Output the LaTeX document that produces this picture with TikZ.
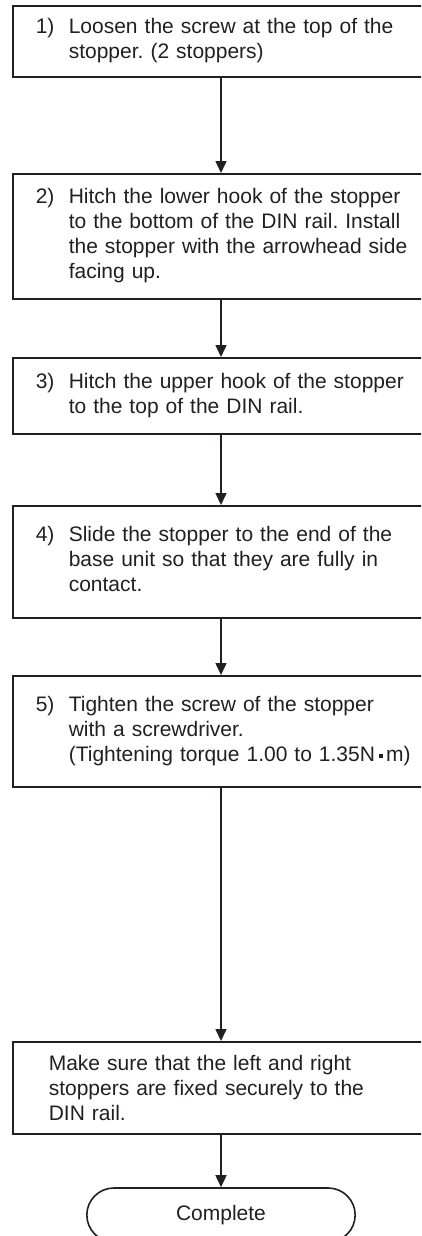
\documentclass[tikz,border=0pt]{standalone}
\usepackage{xcolor}
\usepackage{fontspec}
\setmainfont{Liberation Sans}
\usepackage{tikz}
\usetikzlibrary{arrows.meta, positioning, calc, shapes.misc}
\definecolor{ink}{RGB}{35,31,32}
\frenchspacing
\tikzset{
  stepbox/.style={draw=ink, rectangle, anchor=north west, line width=1.6pt, minimum width=428pt,
    inner xsep=23pt, inner ysep=0pt, text width=382pt, align=left},
  checkbox/.style={stepbox, inner xsep=36pt, text width=356pt},
  terminal/.style={draw=ink, rounded rectangle, line width=1.6pt, minimum width=275pt, minimum height=54pt},
  flow/.style={-{Triangle[width=11pt, length=12pt]}, draw=ink, line width=1.5pt}
}
\newcommand{\steptext}[2]{%
  \begin{tabular}{@{}p{33pt}@{}l@{}}#1 & #2\end{tabular}%
}

\begin{document}
\begin{tikzpicture}[x=1pt, y=-1pt, font=\fontsize{21}{25}\selectfont, text=ink]
        \clip (0,0) rectangle (421,1236);

        % Steps
        \node[stepbox, minimum height=71pt]  (loosen)  at (12,5)   {\steptext{1)}{Loosen the screw at the top of the\\ & stopper. (2 stoppers)}};
        \node[stepbox, minimum height=125pt] (lower)   at (12,173) {\steptext{2)}{Hitch the lower hook of the stopper\\ & to the bottom of the DIN rail. Install\\ & the stopper with the arrowhead side\\ & facing up.}};
        \node[stepbox, minimum height=76pt]  (upper)   at (12,357) {\steptext{3)}{Hitch the upper hook of the stopper\\ & to the top of the DIN rail.}};
        \node[stepbox, minimum height=112pt] (slide)   at (12,505) {\steptext{4)}{Slide the stopper to the end of the\\ & base unit so that they are fully in\\ & contact.}};
        \node[stepbox, minimum height=111pt] (tighten) at (12,675) {\steptext{5)}{Tighten the screw of the stopper\\ & with a screwdriver.\\ & (Tightening torque 1.00 to 1.35N\,\raisebox{0.3ex}{\rule{4pt}{4pt}}\,m)}};
        \node[checkbox, minimum height=92pt] (check)   at (12,1041) {Make sure that the left and right\\ stoppers are fixed securely to the\\ DIN rail.};

        % End
        \node[terminal] (done) at (221,1215) {Complete};

        % Flow
        \draw[flow] (loosen.south -| done)  -- (lower.north -| done);
        \draw[flow] (lower.south -| done)   -- (upper.north -| done);
        \draw[flow] (upper.south -| done)   -- (slide.north -| done);
        \draw[flow] (slide.south -| done)   -- (tighten.north -| done);
        \draw[flow] (tighten.south -| done) -- (check.north -| done);
        \draw[flow] (check.south -| done)   -- (done.north);
    \end{tikzpicture}
\end{document}
